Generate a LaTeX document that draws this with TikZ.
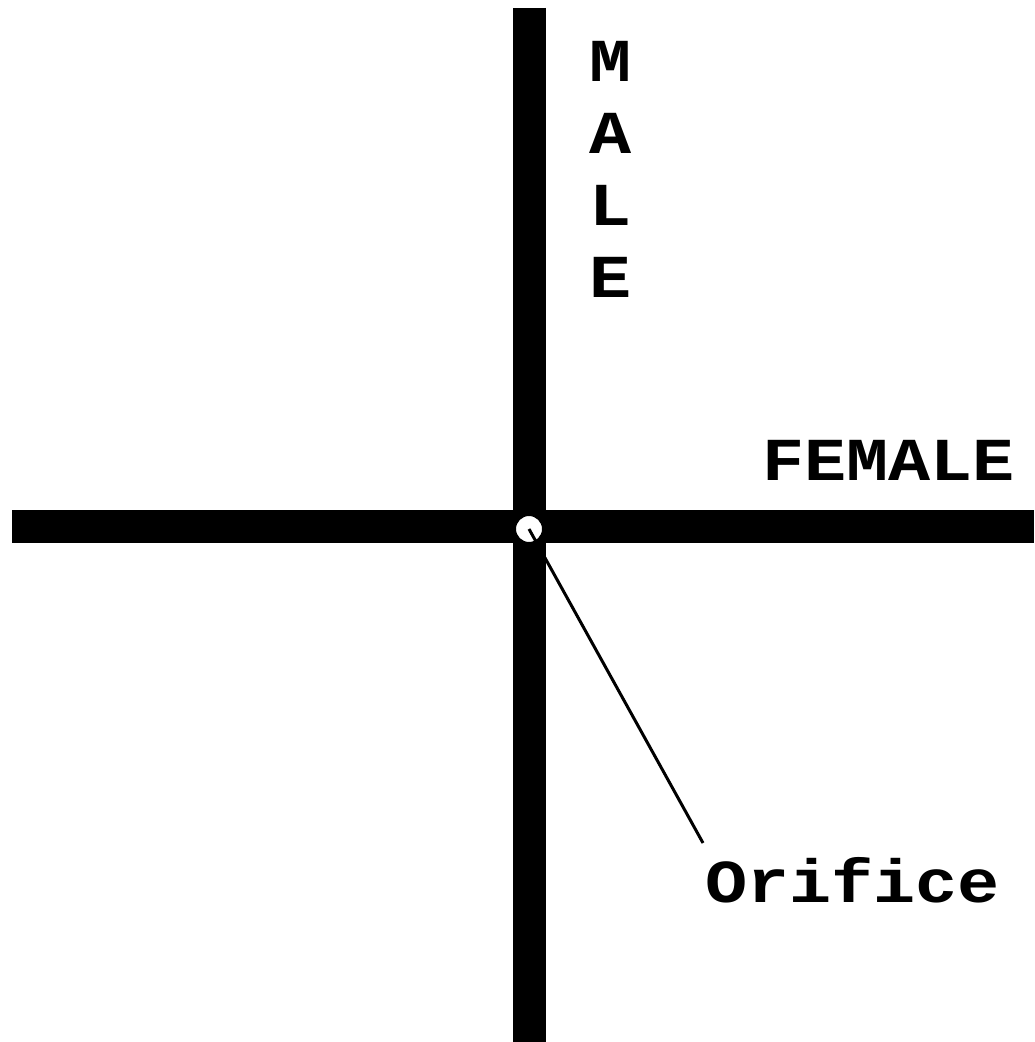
\documentclass[tikz,border=0pt]{standalone}
\usepackage{fontspec}
\newfontfamily\labelfont{Liberation Mono}[FakeStretch=1.15]
\usetikzlibrary{positioning}
\tikzset{
  bar/.style={line width=16.5pt},
  lbl/.style={inner sep=0pt, font=\labelfont\bfseries\fontsize{30.5}{32}\selectfont}
}
\begin{document}
\begin{tikzpicture}[x=0.5pt,y=-0.5pt]
        \useasboundingbox (0,0) rectangle (1034,1042);

        % bars of the cross
        \coordinate (T) at (529,8);
        \coordinate (B) at (529,1042);
        \coordinate (W) at (12,526);
        \coordinate (E) at (1034,526);
        \coordinate (tip) at (703,843);

        \draw[bar] (T) -- (B); % vertical bar
        \draw[bar] (W) -- (E); % horizontal bar

        \node[circle, draw, fill=white, line width=1pt, minimum size=14pt, inner sep=0pt] (hole) at (529,529) {};
        \draw[line width=1.5pt] (hole.center) -- (tip); % pointer

        \node[lbl, anchor=base west] (orifice) at (705,902) {Orifice};
        \node[lbl, anchor=base west] (female) at (762,480) {FEMALE};
        \foreach \l [count=\i] in {M,A,L,E}
          \node[lbl, anchor=base] (male\i) at (611,{82+71.7*(\i-1)}) {\l};
    \end{tikzpicture}
\end{document}
